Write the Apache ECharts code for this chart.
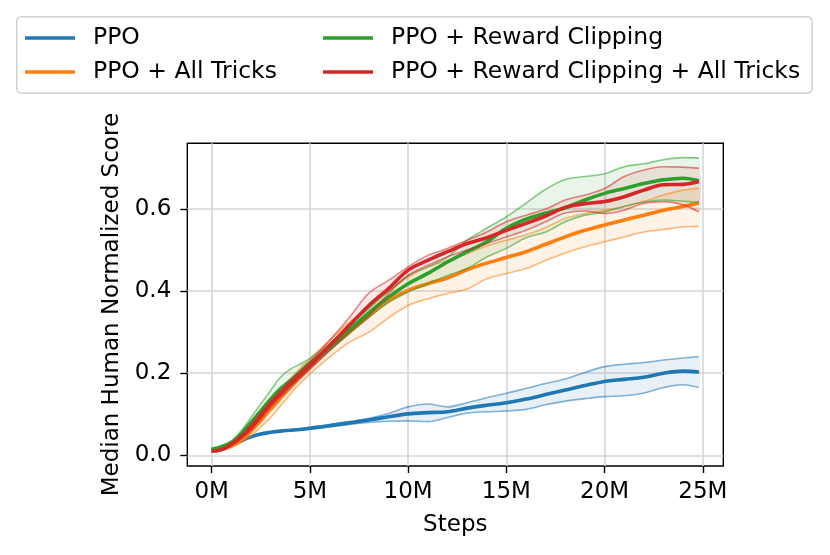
<!DOCTYPE html>
<html>
<head>
<meta charset="utf-8">
<script src="https://cdn.jsdelivr.net/npm/echarts@6/dist/echarts.min.js"></script>
<style>
html,body{margin:0;padding:0;background:#fff;}
#chart{width:830px;height:555px;}
</style>
</head>
<body>
<div id="chart"></div>
<script>
// Steps (millions)
const steps = [0,0.5,1,1.5,2,2.5,3,3.5,4,4.5,5,6,7,8,9,10,11,12,13,14,15,16,17,18,19,20,21,22,23,24,24.8];

const xTicks = [0,5,10,15,20,25];
const yTicks = [0,0.2,0.4,0.6];

const seriesNames = ['PPO','PPO + All Tricks','PPO + Reward Clipping','PPO + Reward Clipping + All Tricks'];
const seriesColors = ['#1f77b4','#ff7f0e','#2ca02c','#d62728'];

// PPO
const ppoMean  = [0.012,0.016,0.024,0.035,0.045,0.052,0.056,0.059,0.061,0.063,0.066,0.072,0.079,0.086,0.094,0.101,0.104,0.106,0.115,0.122,0.128,0.137,0.148,0.159,0.170,0.180,0.185,0.190,0.200,0.205,0.203];
const ppoUpper = [0.013,0.017,0.025,0.036,0.046,0.053,0.057,0.060,0.062,0.065,0.068,0.075,0.082,0.090,0.102,0.118,0.125,0.118,0.128,0.140,0.151,0.163,0.175,0.186,0.202,0.216,0.222,0.226,0.232,0.237,0.240];
const ppoLower = [0.011,0.015,0.023,0.034,0.044,0.051,0.055,0.058,0.060,0.062,0.064,0.069,0.075,0.080,0.083,0.084,0.082,0.092,0.103,0.106,0.108,0.112,0.123,0.132,0.138,0.143,0.145,0.152,0.165,0.172,0.165];

// PPO + All Tricks
const allMean  = [0.010,0.014,0.023,0.038,0.059,0.085,0.112,0.139,0.165,0.190,0.214,0.259,0.300,0.340,0.377,0.402,0.418,0.432,0.452,0.468,0.482,0.496,0.514,0.532,0.548,0.561,0.573,0.585,0.597,0.606,0.615];
const allUpper = [0.011,0.016,0.026,0.044,0.068,0.098,0.129,0.158,0.186,0.212,0.235,0.280,0.324,0.361,0.400,0.434,0.459,0.475,0.491,0.510,0.524,0.537,0.555,0.577,0.589,0.597,0.606,0.618,0.634,0.646,0.650];
const allLower = [0.009,0.012,0.019,0.031,0.048,0.069,0.092,0.120,0.149,0.175,0.198,0.239,0.275,0.300,0.335,0.365,0.381,0.394,0.405,0.430,0.443,0.455,0.475,0.493,0.508,0.520,0.532,0.544,0.550,0.556,0.558];

// PPO + Reward Clipping
const rcMean  = [0.015,0.021,0.031,0.052,0.080,0.108,0.137,0.162,0.182,0.203,0.225,0.263,0.305,0.347,0.385,0.418,0.443,0.471,0.496,0.520,0.553,0.575,0.590,0.603,0.622,0.638,0.650,0.662,0.671,0.675,0.669];
const rcUpper = [0.016,0.023,0.035,0.060,0.092,0.125,0.158,0.190,0.210,0.222,0.236,0.272,0.315,0.358,0.400,0.438,0.459,0.483,0.524,0.553,0.581,0.614,0.648,0.672,0.679,0.686,0.703,0.710,0.720,0.725,0.724];
const rcLower = [0.014,0.019,0.028,0.046,0.070,0.096,0.122,0.148,0.170,0.192,0.215,0.255,0.296,0.336,0.372,0.398,0.418,0.438,0.455,0.483,0.504,0.530,0.544,0.569,0.585,0.593,0.606,0.617,0.622,0.619,0.616];

// PPO + Reward Clipping + All Tricks
const rcaMean  = [0.010,0.014,0.027,0.045,0.068,0.096,0.125,0.150,0.174,0.196,0.218,0.267,0.316,0.365,0.406,0.451,0.475,0.496,0.516,0.530,0.548,0.565,0.583,0.604,0.613,0.618,0.630,0.646,0.659,0.660,0.667];
const rcaUpper = [0.011,0.016,0.030,0.050,0.075,0.104,0.133,0.158,0.182,0.205,0.228,0.280,0.335,0.395,0.426,0.459,0.487,0.504,0.524,0.544,0.569,0.585,0.600,0.622,0.634,0.650,0.679,0.695,0.703,0.702,0.699];
const rcaLower = [0.009,0.012,0.024,0.040,0.061,0.088,0.117,0.142,0.166,0.188,0.210,0.255,0.300,0.340,0.394,0.438,0.463,0.483,0.500,0.516,0.532,0.548,0.569,0.590,0.595,0.589,0.597,0.614,0.618,0.610,0.593];

const means  = [ppoMean, allMean, rcMean, rcaMean];
const uppers = [ppoUpper, allUpper, rcUpper, rcaUpper];
const lowers = [ppoLower, allLower, rcLower, rcaLower];

const FONT = 'DejaVu Sans';
const SMOOTH = 0.35;
const series = [];
seriesNames.forEach((name, i) => {
  const c = seriesColors[i];
  const lo = lowers[i], up = uppers[i], mn = means[i];
  // shaded band between lower and upper, drawn through the axis scales
  series.push({
    type: 'custom', name: name + ' band', silent: true, clip: true,
    data: [[steps[0], lo[0]]],
    renderItem: function (params, api) {
      const pts = [];
      for (let j = 0; j < steps.length; j++) pts.push(api.coord([steps[j], up[j]]));
      for (let j = steps.length - 1; j >= 0; j--) pts.push(api.coord([steps[j], lo[j]]));
      return {
        type: 'polygon',
        shape: { points: pts, smooth: 0.25 },
        style: { fill: c, opacity: 0.1 }
      };
    }
  });
  series.push({
    type: 'line', name: name + ' up', smooth: SMOOTH, symbol: 'none', silent: true,
    lineStyle: { color: c, width: 1.6, opacity: 0.55 },
    data: steps.map((x, j) => [x, up[j]])
  });
  series.push({
    type: 'line', name: name + ' low', smooth: SMOOTH, symbol: 'none', silent: true,
    lineStyle: { color: c, width: 1.6, opacity: 0.55 },
    data: steps.map((x, j) => [x, lo[j]])
  });
  series.push({
    type: 'line', name: name, smooth: SMOOTH, symbol: 'none',
    color: c, itemStyle: { color: c },
    lineStyle: { color: c, width: 3.6 },
    data: steps.map((x, j) => [x, mn[j]])
  });
});

const legendBase = {
  orient: 'vertical', top: 26, padding: 0, itemGap: 10,
  icon: 'rect', itemWidth: 50, itemHeight: 3.5,
  selectedMode: false,
  textStyle: { fontFamily: FONT, fontSize: 23.5, color: '#000', lineHeight: 23, padding: [0, 0, 0, 13] }
};

const chart = echarts.init(document.getElementById('chart'), null, { renderer: 'canvas' });
chart.setOption({
  animation: false,
  backgroundColor: '#fff',
  graphic: [{
    type: 'rect', z: -1,
    shape: { x: 16.7, y: 16.7, width: 795.5, height: 76.6, r: 5 },
    style: { fill: '#fff', stroke: '#d0d0d0', lineWidth: 1.5 }
  }],
  legend: [
    Object.assign({}, legendBase, { left: 25, data: [seriesNames[0], seriesNames[1]] }),
    Object.assign({}, legendBase, { left: 323, data: [seriesNames[2], seriesNames[3]] })
  ],
  grid: {
    left: 187.3, right: 106.7, top: 143.3, bottom: 89,
    show: true, borderColor: '#000', borderWidth: 1.4, backgroundColor: 'transparent'
  },
  xAxis: {
    type: 'value', min: -1.24, max: 26.04,
    name: 'Steps', nameLocation: 'middle', nameGap: 48,
    nameTextStyle: { fontFamily: FONT, fontSize: 23, color: '#000' },
    axisLine: { show: false, onZero: false },
    axisTick: { show: true, length: 7, customValues: xTicks, lineStyle: { color: '#000', width: 1.4 } },
    axisLabel: { customValues: xTicks, margin: 15, fontFamily: FONT, fontSize: 23, color: '#000', formatter: v => v + 'M' },
    splitLine: { show: true, lineStyle: { color: '#d6d6d6', width: 1.6 } }
  },
  yAxis: {
    type: 'value', min: -0.026, max: 0.760,
    name: 'Median Human Normalized Score', nameLocation: 'middle', nameGap: 64,
    nameTextStyle: { fontFamily: FONT, fontSize: 23, color: '#000' },
    axisLine: { show: false, onZero: false },
    axisTick: { show: true, length: 7, customValues: yTicks, lineStyle: { color: '#000', width: 1.4 } },
    axisLabel: { customValues: yTicks, margin: 16, fontFamily: FONT, fontSize: 23, color: '#000', formatter: v => v.toFixed(1) },
    splitLine: { show: true, lineStyle: { color: '#d6d6d6', width: 1.6 } }
  },
  series: series
});
</script>
</body>
</html>
